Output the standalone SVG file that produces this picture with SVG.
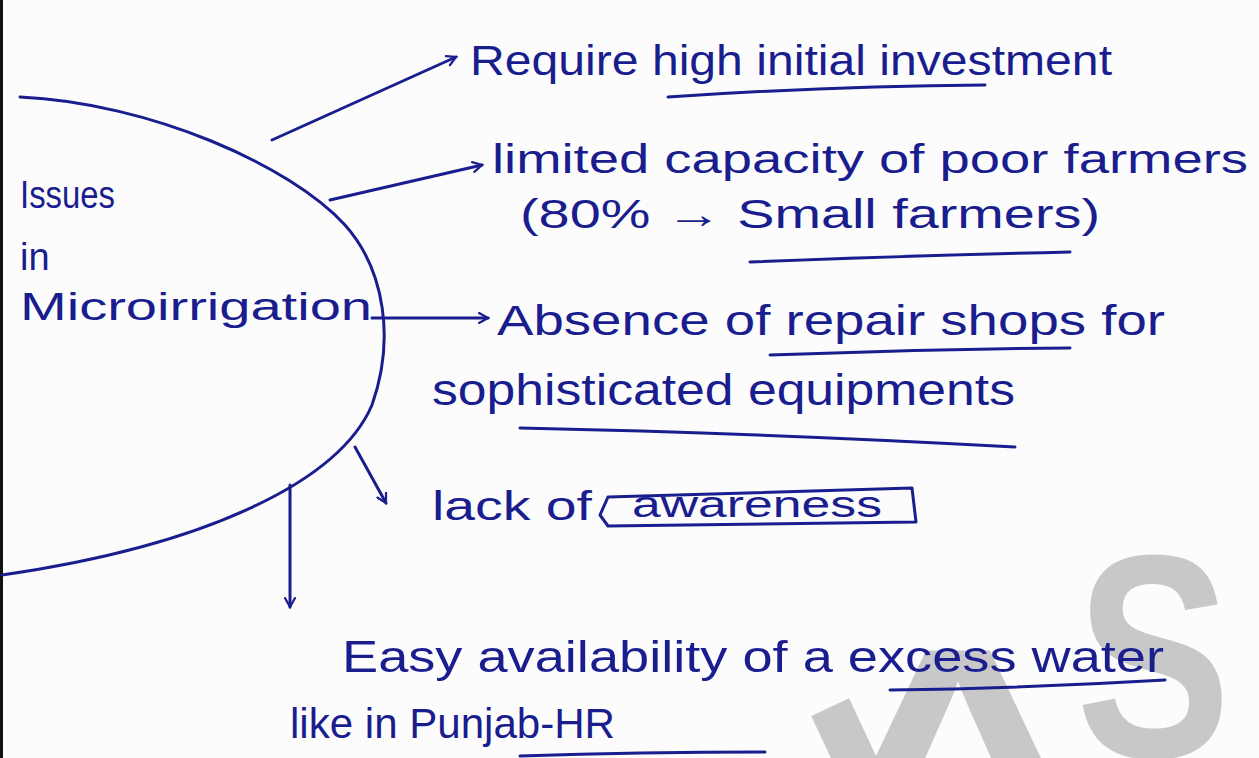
<svg xmlns="http://www.w3.org/2000/svg" width="1259" height="758" viewBox="0 0 1259 758">
<defs>
<style>
.ink{fill:#1a1d8e;font-family:"Liberation Sans",Arial,sans-serif;}
.ln{fill:none;stroke:#1a1d8e;stroke-width:3;stroke-linecap:round;stroke-linejoin:round;}
.wm{fill:#c8c8c8;font-family:"Liberation Sans",Arial,sans-serif;font-weight:bold;}
</style>
<marker id="hd" viewBox="0 0 12 12" refX="10" refY="6" markerWidth="12" markerHeight="12" markerUnits="userSpaceOnUse" orient="auto">
<path d="M1,1 L10,6 L1,11" fill="none" stroke="#1a1d8e" stroke-width="2.2" stroke-linecap="round"/>
</marker>
</defs>
<rect x="0" y="0" width="1259" height="758" fill="#fcfcfc"/>
<line x1="1.5" y1="0" x2="1.5" y2="758" stroke="#111" stroke-width="3"/>

<g id="watermark">
<text class="wm" font-size="290" transform="translate(878,905) rotate(-25)">I</text>
<text class="wm" font-size="290" transform="translate(822,850) scale(1.3,1)">A</text>
<text class="wm" font-size="290" transform="translate(1076,757) scale(0.8,1)">S</text>
</g>

<g id="connectors">
<path class="ln" d="M20 97 C150 103 290 165 345 225 C385 270 395 340 372 405 C340 480 210 545 2 575"/>
<line class="ln" x1="272" y1="140" x2="456" y2="57" marker-end="url(#hd)"/>
<line class="ln" x1="330" y1="200" x2="482" y2="165" marker-end="url(#hd)"/>
<line class="ln" x1="372" y1="318" x2="488" y2="318" marker-end="url(#hd)"/>
<line class="ln" x1="355" y1="447" x2="386" y2="503" marker-end="url(#hd)"/>
<line class="ln" x1="290" y1="485" x2="290" y2="607" marker-end="url(#hd)"/>
</g>

<g id="center">
<text class="ink" x="20" y="208" font-size="38" textLength="95" lengthAdjust="spacingAndGlyphs">Issues</text>
<text class="ink" x="20" y="270" font-size="38">in</text>
<text class="ink" x="20" y="320" font-size="38" textLength="352" lengthAdjust="spacingAndGlyphs">Microirrigation</text>
</g>

<g id="issue1">
<text class="ink" x="470" y="75" font-size="42" textLength="642" lengthAdjust="spacingAndGlyphs">Require high initial investment</text>
<path class="ln" d="M668 97 Q830 86 985 85"/>
</g>

<g id="issue2">
<text class="ink" x="492" y="173" font-size="40" textLength="756" lengthAdjust="spacingAndGlyphs">limited capacity of poor farmers</text>
<text class="ink" x="520" y="228" font-size="40" textLength="580" lengthAdjust="spacingAndGlyphs">(80% → Small farmers)</text>
<path class="ln" d="M750 262 Q900 256 1070 252"/>
</g>

<g id="issue3">
<text class="ink" x="497" y="335" font-size="42" textLength="668" lengthAdjust="spacingAndGlyphs">Absence of repair shops for</text>
<path class="ln" d="M770 355 Q920 349 1070 348"/>
<text class="ink" x="432" y="405" font-size="44" textLength="583" lengthAdjust="spacingAndGlyphs">sophisticated equipments</text>
<path class="ln" d="M520 428 Q760 433 1015 447"/>
</g>

<g id="issue4">
<text class="ink" x="432" y="520" font-size="40" textLength="160" lengthAdjust="spacingAndGlyphs">lack of</text>
<path class="ln" d="M600 515 L608 497 L912 488 L916 522 L608 526 Z"/>
<text class="ink" x="632" y="517" font-size="36" textLength="250" lengthAdjust="spacingAndGlyphs">awareness</text>
</g>

<g id="issue5">
<text class="ink" x="342" y="672" font-size="44" textLength="822" lengthAdjust="spacingAndGlyphs">Easy availability of a excess water</text>
<path class="ln" d="M890 690 Q1030 688 1165 680"/>
<text class="ink" x="290" y="738" font-size="42" textLength="325" lengthAdjust="spacingAndGlyphs">like in Punjab-HR</text>
<path class="ln" d="M520 756 Q640 752 765 752"/>
</g>
</svg>
